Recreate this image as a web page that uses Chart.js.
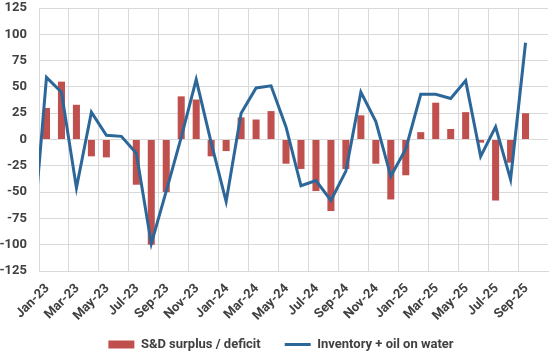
<!DOCTYPE html>
<html><head><meta charset="utf-8">
<script src="https://cdn.jsdelivr.net/npm/chart.js@4"></script>
<style>html,body{margin:0;padding:0;background:#fff}#wrap{width:553px;height:351px;position:relative}</style>
</head><body><div id="wrap"><canvas id="c"></canvas></div>
<script>
const months = ['Dec-22',
  'Jan-23','Feb-23','Mar-23','Apr-23','May-23','Jun-23','Jul-23','Aug-23','Sep-23','Oct-23','Nov-23','Dec-23',
  'Jan-24','Feb-24','Mar-24','Apr-24','May-24','Jun-24','Jul-24','Aug-24','Sep-24','Oct-24','Nov-24','Dec-24',
  'Jan-25','Feb-25','Mar-25','Apr-25','May-25','Jun-25','Jul-25','Aug-25','Sep-25','Oct-25'];
const sdBalance = [null,
  30, 55, 33, -16, -17, 0, -43, -100, -50, 41, 38, -16,
  -11, 21, 19, 27, -23, -28, -49, -68, -28, 23, -23, -57,
  -34, 7, 35, 10, 26, -3, -58, -22, 25, null];
const inventory = [-110,
  59, 45, -46, 26, 4, 3, -13, -99, -49, 2, 57, -3,
  -59, 25, 49, 51, 12, -44, -39, -58, -30, 45, 17, -35,
  -9, 43, 43, 39, 56, -16, 12, -38, 92, null];
const yTicks = {min: -125, max: 125, step: 25};

const barColor = '#c0504d';
const lineColor = '#2c6799';
const textColor = '#404040';
const gridColor = '#d9d9d9';
const font = {family: 'Roboto', size: 13, weight: 'bold'};

const layoutTweak = {
  id: 'layoutTweak',
  afterLayout(chart) {
    const x = chart.scales.x;
    x.bottom = x.top + 60;           // room for the rotated tick labels
    const lg = chart.legend;
    lg.left += 7; lg.right += 7;     // centre the legend row like the reference
  }
};

new Chart(document.getElementById('c'), {
  data: {
    labels: months,
    datasets: [
      {type: 'bar', label: 'S&D surplus / deficit', data: sdBalance, backgroundColor: barColor,
       barPercentage: 0.47, categoryPercentage: 1.0, order: 2},
      {type: 'line', label: 'Inventory + oil on water', data: inventory, borderColor: lineColor,
       backgroundColor: lineColor, borderWidth: 3, pointRadius: 0, tension: 0, clip: 0, order: 1}
    ]
  },
  plugins: [layoutTweak],
  options: {
    responsive: true, maintainAspectRatio: false, animation: false,
    layout: {padding: {top: 0, right: 5, bottom: -10, left: 0}},
    scales: {
      x: {
        type: 'category', min: 'Jan-23', max: 'Oct-25', offset: true,
        grid: {offset: true, drawTicks: false,
               color: ctx => (ctx.index % 2 === 0 ? gridColor : 'rgba(0,0,0,0)')},
        border: {display: true, color: gridColor},
        ticks: {autoSkip: false, maxRotation: 45, minRotation: 45, padding: 10, labelOffset: 1,
                color: textColor, font: font,
                callback: function(value, index) { return index % 2 === 0 ? this.getLabelForValue(value) : ''; }},
        afterFit: scale => { scale.height = 43; scale.paddingLeft = 0; scale.paddingRight = 0; }
      },
      y: {
        min: yTicks.min, max: yTicks.max,
        grid: {color: gridColor, drawTicks: false},
        border: {display: true, color: gridColor},
        ticks: {stepSize: yTicks.step, padding: 12, color: textColor, font: font},
        afterFit: scale => { scale.width = 39; scale.paddingTop = 8; scale.paddingBottom = 8; }
      }
    },
    plugins: {
      tooltip: {enabled: false},
      legend: {
        position: 'bottom',
        labels: {
          usePointStyle: true, pointStyleWidth: 26, boxHeight: 8, padding: 24,
          color: textColor, font: font,
          generateLabels(chart) {
            const items = Chart.defaults.plugins.legend.labels.generateLabels(chart);
            items.sort((a, b) => a.datasetIndex - b.datasetIndex);
            items.forEach(it => {
              if (it.datasetIndex === 0) { it.pointStyle = 'rect'; it.fillStyle = barColor; it.strokeStyle = barColor; it.lineWidth = 0; }
              else { it.pointStyle = 'line'; it.strokeStyle = lineColor; it.fillStyle = lineColor; it.lineWidth = 3; }
            });
            return items;
          }
        }
      }
    }
  }
});
</script>
</body></html>
